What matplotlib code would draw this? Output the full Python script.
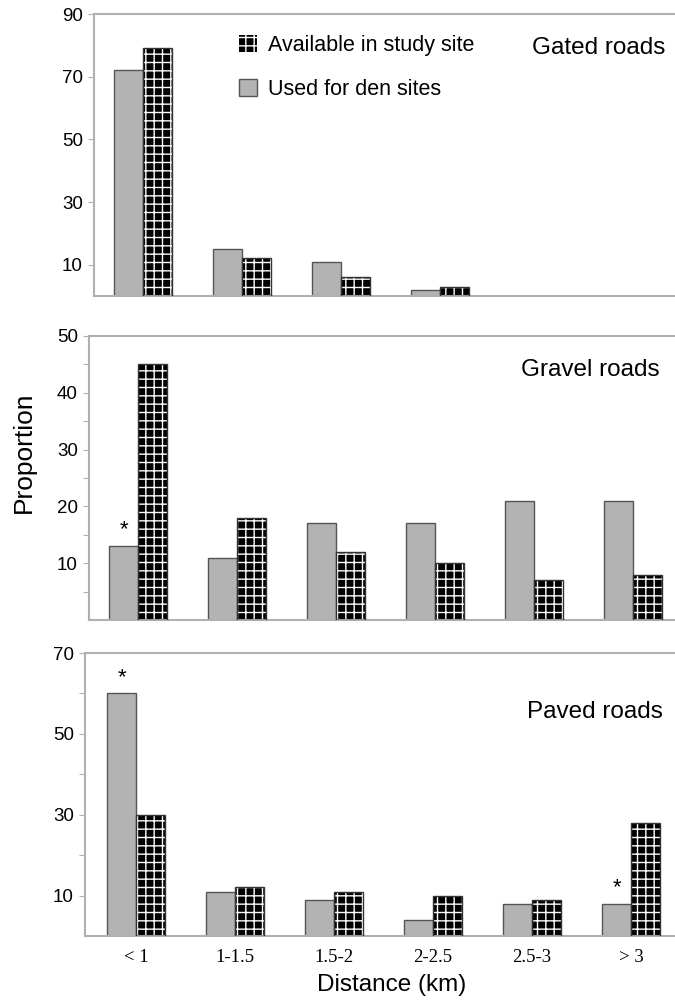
import matplotlib
matplotlib.use("Agg")
import matplotlib.pyplot as plt
import numpy as np
from matplotlib.patches import Patch

categories = ["< 1", "1-1.5", "1.5-2", "2-2.5", "2.5-3", "> 3"]

gated_used = [72, 15, 11, 2, 0, 0]
gated_avail = [79, 12, 6, 3, 0, 0]
gravel_used = [13, 11, 17, 17, 21, 21]
gravel_avail = [45, 18, 12, 10, 7, 8]
paved_used = [60, 11, 9, 4, 8, 8]
paved_avail = [30, 12, 11, 10, 9, 28]

gravel_star = [0]          # category indices with asterisk (used bars)
paved_star = [0, 5]

panel_titles = ["Gated roads", "Gravel roads", "Paved roads"]
legend_labels = ["Available in study site", "Used for den sites"]

plt.rcParams['font.family'] = ['Liberation Sans', 'DejaVu Sans']
plt.rcParams['hatch.linewidth'] = 1.0

GRAY = "#b3b3b3"
EDGE = "#555555"
SPINE = "#b0b0b0"

W, H = 675, 1005
fig = plt.figure(figsize=(W / 100, H / 100), dpi=100)

def add_ax(left_px, top_px, bottom_px, right_px=675):
    return fig.add_axes([left_px / W, 1 - bottom_px / H,
                         (right_px - left_px) / W, (bottom_px - top_px) / H])

ax1 = add_ax(94, 14, 296)
ax2 = add_ax(89, 336, 620)
ax3 = add_ax(85, 653, 936)

x = np.arange(len(categories))
bw = 0.29

def draw(ax, used, avail, left_px, width_px, center0_px):
    used = np.asarray(used, dtype=float)
    avail = np.asarray(avail, dtype=float)
    mu = used > 0
    ma = avail > 0
    ax.bar(x[mu] - bw / 2, used[mu], bw, color=GRAY, edgecolor=EDGE, linewidth=1.0, zorder=2)
    ax.bar(x[ma] + bw / 2, avail[ma], bw, color="black", edgecolor="white", hatch="++",
           linewidth=0, zorder=2)
    ax.bar(x[ma] + bw / 2, avail[ma], bw, fill=False, edgecolor="#333333", linewidth=1.0, zorder=3)
    sp = 99.0
    lo = -(center0_px - left_px) / sp
    ax.set_xlim(lo, lo + width_px / sp)
    ax.spines["right"].set_visible(False)
    for s in ["top", "left", "bottom"]:
        ax.spines[s].set_color(SPINE)
        ax.spines[s].set_linewidth(1.5)
    ax.tick_params(axis="y", direction="out", length=4, color=SPINE, labelsize=13.5, pad=4)
    ax.tick_params(axis="x", length=0)

draw(ax1, gated_used, gated_avail, 94, 581, 143)
draw(ax2, gravel_used, gravel_avail, 89, 586, 138)
draw(ax3, paved_used, paved_avail, 85, 590, 136)

ax1.set_ylim(0, 90)
ax1.set_yticks([10, 30, 50, 70, 90])
ax2.set_ylim(0, 50)
ax2.set_yticks(np.arange(5, 51, 5))
ax2.set_yticklabels(["" if v % 10 else str(v) for v in np.arange(5, 51, 5)])
ax3.set_ylim(0, 70)
ax3.set_yticks([10, 20, 30, 40, 50, 60, 70])
ax3.set_yticklabels(["10", "", "30", "", "50", "", "70"])

ax1.set_xticks([])
ax2.set_xticks([])
ax3.set_xticks(x)
ax3.set_xticklabels(categories, family=["Liberation Serif"], fontsize=13.5)
ax3.tick_params(axis="x", pad=9)

ax1.text(0.983, 0.88, panel_titles[0], transform=ax1.transAxes, ha="right", va="center", fontsize=17.5)
ax2.text(0.974, 0.88, panel_titles[1], transform=ax2.transAxes, ha="right", va="center", fontsize=17.5)
ax3.text(0.98, 0.79, panel_titles[2], transform=ax3.transAxes, ha="right", va="center", fontsize=17.5)

for i in gravel_star:
    ax2.text(x[i] - bw / 2, gravel_used[i] + 1.0, "*", ha="center", va="bottom", fontsize=16)
for i in paved_star:
    ax3.text(x[i] - bw / 2, paved_used[i] + 1.3, "*", ha="center", va="bottom", fontsize=16)

handles = [Patch(facecolor="black", edgecolor="white", hatch="++", linewidth=0),
           Patch(facecolor=GRAY, edgecolor=EDGE, linewidth=1.0)]
leg = ax1.legend(handles, legend_labels, loc="upper left",
                 bbox_to_anchor=((239 - 94) / 581, (296 - 35) / 282),
                 frameon=False, fontsize=15.5, handlelength=0.85, handleheight=0.85,
                 handletextpad=0.5, labelspacing=1.06, borderaxespad=0, borderpad=0)

fig.text(24 / W, 1 - 452 / H, "Proportion", rotation=90, ha="center", va="center", fontsize=19)
fig.text(392 / W, 1 - 985 / H, "Distance (km)", ha="center", va="center", fontsize=17.5)

fig.savefig("out.png", dpi=100)
